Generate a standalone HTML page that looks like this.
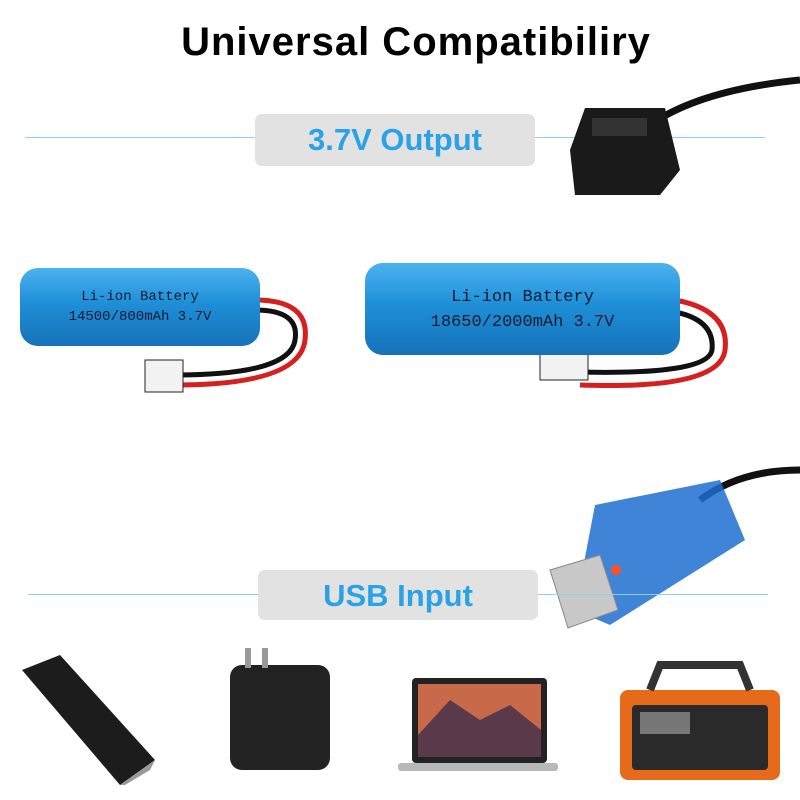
<!DOCTYPE html>
<html><head><meta charset="utf-8"><style>
body{margin:0;width:800px;height:800px;background:#fff;position:relative;overflow:hidden;font-family:"Liberation Sans",sans-serif}
.a{position:absolute}
.title{left:0;width:832px;top:20px;text-align:center;font-size:40px;font-weight:900;color:#000;letter-spacing:1px}
.line{height:1px;background:#8fd0f0}
.box{background:#e2e2e2;border-radius:7px;color:#2aa3e6;font-weight:bold;font-size:31px;text-align:center}
.bat{background:linear-gradient(#4db2f0,#1e8fd8 45%,#1672b8);border-radius:18px;font-family:"Liberation Mono",monospace;color:#0e1c30;text-align:center}
</style></head><body>
<div class="a title">Universal Compatibiliry</div>
<div class="a line" style="left:25px;top:137px;width:740px"></div>
<div class="a box" style="left:255px;top:114px;width:280px;height:52px;line-height:52px">3.7V Output</div>
<svg class="a" style="left:0;top:0" width="800" height="800">
<path d="M650 125 Q700 90 800 80" stroke="#111" stroke-width="7" fill="none"/>
<polygon points="585,108 665,108 680,170 660,195 575,195 570,150" fill="#1a1a1a"/>
<rect x="592" y="118" width="55" height="18" fill="#333"/>
<path d="M255 300 Q310 300 305 340 Q300 385 175 385" stroke="#d62020" stroke-width="5" fill="none"/>
<path d="M255 310 Q300 310 295 340 Q290 375 175 375" stroke="#111" stroke-width="5" fill="none"/>
<rect x="145" y="360" width="38" height="32" fill="#f2f2f2" stroke="#222"/>
<path d="M675 300 Q730 310 725 350 Q720 390 580 385" stroke="#d62020" stroke-width="5" fill="none"/>
<path d="M675 312 Q715 320 712 350 Q708 375 580 372" stroke="#111" stroke-width="5" fill="none"/>
<rect x="540" y="340" width="48" height="40" fill="#f2f2f2" stroke="#222"/>
<path d="M700 500 Q740 470 800 470" stroke="#111" stroke-width="7" fill="none"/>
<polygon points="595,505 720,480 745,540 610,625 575,610" fill="#1e6fd0" opacity="0.85"/>
<polygon points="550,570 600,555 618,610 568,628" fill="#c8c8c8" stroke="#888"/>
<circle cx="616" cy="570" r="5" fill="#ff5020"/>
<polygon points="22,670 60,655 155,760 120,785" fill="#1c1c1c"/>
<polygon points="120,785 155,760 150,770 125,785" fill="#999"/>
<rect x="230" y="665" width="100" height="105" rx="12" fill="#222"/>
<rect x="245" y="648" width="6" height="20" fill="#999"/><rect x="262" y="648" width="6" height="20" fill="#999"/>
<rect x="412" y="678" width="135" height="85" rx="4" fill="#222"/>
<rect x="418" y="684" width="123" height="73" fill="#c86a4a"/>
<polygon points="418,735 450,700 480,720 510,705 541,730 541,757 418,757" fill="#5a3a4a"/>
<rect x="398" y="763" width="160" height="8" rx="3" fill="#b8b8b8"/>
<rect x="620" y="690" width="160" height="90" rx="8" fill="#e56a1a"/>
<path d="M650 690 L660 665 L740 665 L750 690" stroke="#333" stroke-width="8" fill="none"/>
<rect x="632" y="705" width="136" height="65" rx="4" fill="#2a2a2a"/>
<rect x="640" y="712" width="50" height="22" fill="#777"/>
</svg>
<div class="a bat" style="left:20px;top:268px;width:240px;height:78px;font-size:14px;line-height:20px;padding-top:19px;box-sizing:border-box;font-family:'Liberation Mono','DejaVu Serif',serif">Li-ion Battery<br>14500/800mAh 3.7V</div>
<div class="a bat" style="left:365px;top:263px;width:315px;height:92px;font-size:17px;line-height:25px;padding-top:22px;box-sizing:border-box">Li-ion Battery<br>18650/2000mAh 3.7V</div>
<div class="a line" style="left:28px;top:594px;width:740px"></div>
<div class="a box" style="left:258px;top:570px;width:280px;height:50px;line-height:52px">USB Input</div>
</body></html>
